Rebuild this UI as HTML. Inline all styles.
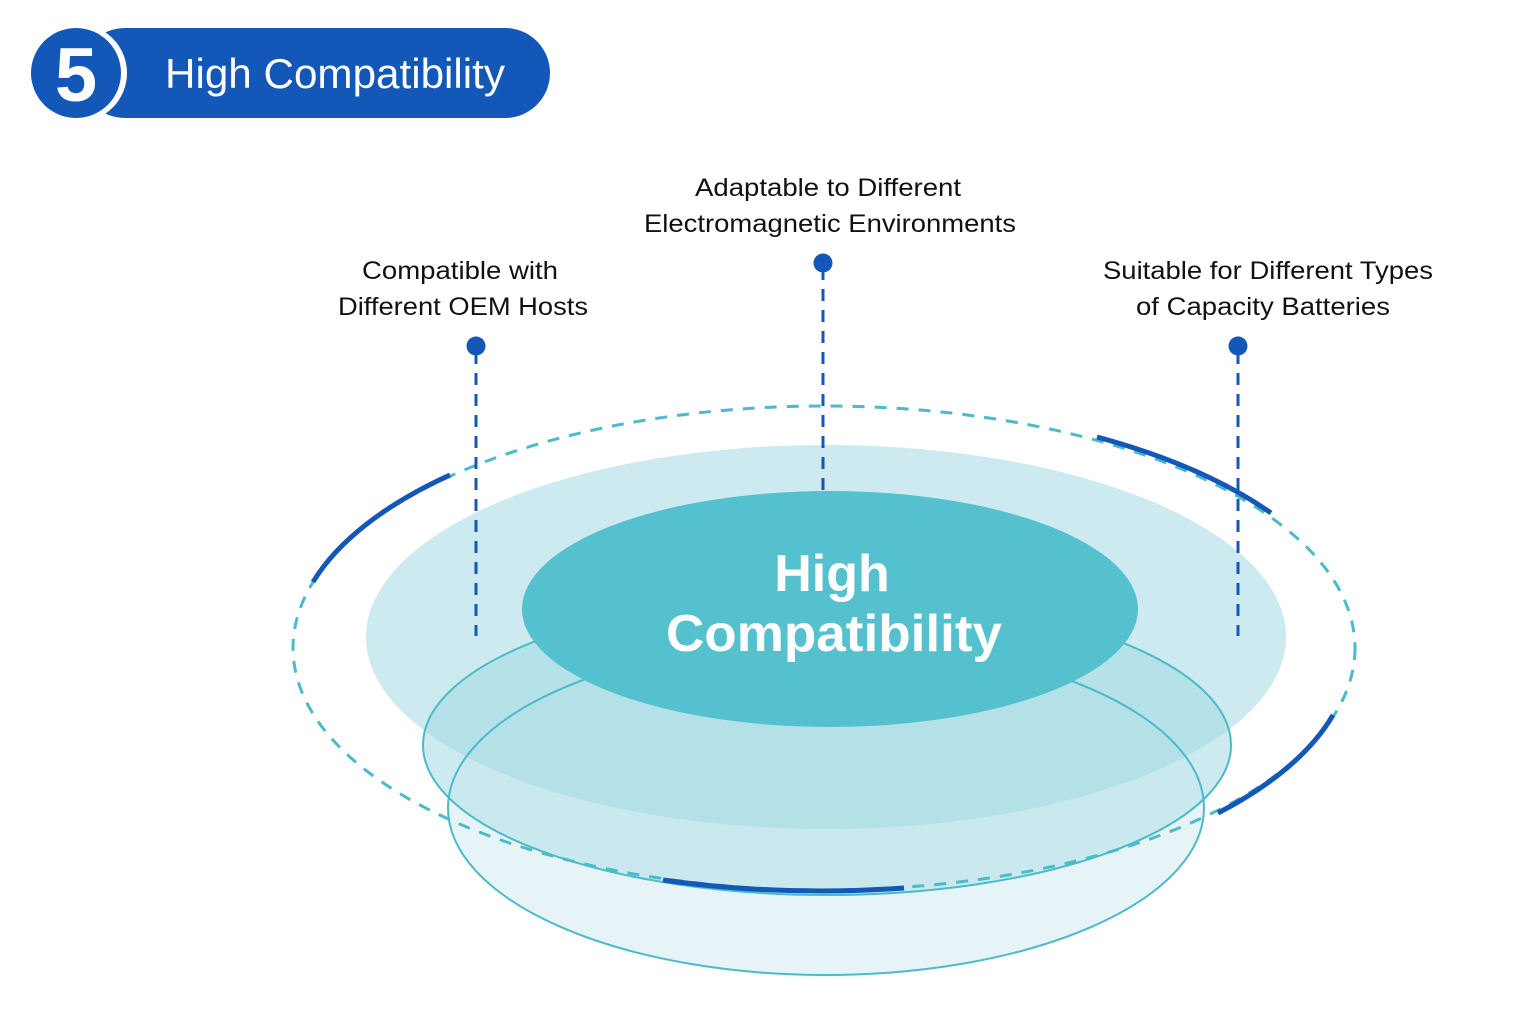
<!DOCTYPE html>
<html><head><meta charset="utf-8"><style>
html,body{margin:0;padding:0;background:#fff;}
svg{display:block}
</style></head><body>
<svg width="1536" height="1024" viewBox="0 0 1536 1024" xmlns="http://www.w3.org/2000/svg" font-family="Liberation Sans, Arial, sans-serif">
<rect width="1536" height="1024" fill="#fff"/>
<!-- header -->
<rect x="80" y="28" width="470" height="90" rx="45" fill="#1358b8"/>
<circle cx="78" cy="73" r="49" fill="#fff"/>
<circle cx="76" cy="73" r="45" fill="#1358b8"/>
<text x="76" y="101" font-size="76" font-weight="bold" fill="#fff" text-anchor="middle">5</text>
<text x="165" y="88" font-size="42" fill="#fff" textLength="340" lengthAdjust="spacingAndGlyphs">High Compatibility</text>

<!-- lower ellipses fills -->
<ellipse cx="826" cy="808" rx="378" ry="167" fill="#e6f4f7"/>
<ellipse cx="827" cy="745" rx="404" ry="150" fill="#c4e6ed" opacity="0.85"/>
<!-- big pale disc -->
<ellipse cx="826" cy="637" rx="460" ry="192" fill="#a2d8e2" opacity="0.55"/>
<!-- outlines -->
<ellipse cx="827" cy="745" rx="404" ry="150" fill="none" stroke="#4bbac9" stroke-width="2"/>
<ellipse cx="826" cy="808" rx="378" ry="167" fill="none" stroke="#4bbac9" stroke-width="2"/>

<!-- dashed orbit -->
<ellipse cx="824" cy="648" rx="531" ry="242" fill="none" stroke="#4bbac9" stroke-width="3" stroke-dasharray="12 10"/>
<g fill="none" stroke="#1358b8" stroke-width="5" stroke-linecap="butt">
<path d="M450 475 A531 242 0 0 0 313 582"/>
<path d="M1097 437 A531 242 0 0 1 1271 513"/>
<path d="M1333 715 A531 242 0 0 1 1218 813"/>
<path d="M904 888 A531 242 0 0 1 663 880"/>
</g>

<!-- connectors -->
<g stroke="#1358b8" stroke-width="3" stroke-dasharray="12 9">
<line x1="476" y1="352" x2="476" y2="636"/>
<line x1="823" y1="268" x2="823" y2="490"/>
<line x1="1238" y1="352" x2="1238" y2="636"/>
</g>
<circle cx="476" cy="346" r="9.5" fill="#1358b8"/>
<circle cx="823" cy="263" r="9.5" fill="#1358b8"/>
<circle cx="1238" cy="346" r="9.5" fill="#1358b8"/>

<!-- center disc -->
<ellipse cx="830" cy="609" rx="308" ry="118" fill="#55c1cf"/>
<text x="832" y="591" font-size="52" font-weight="bold" fill="#fff" text-anchor="middle">High</text>
<text x="834" y="651" font-size="52" font-weight="bold" fill="#fff" text-anchor="middle" textLength="336" lengthAdjust="spacingAndGlyphs">Compatibility</text>

<!-- labels -->
<g font-size="25" fill="#111" text-anchor="middle">
<text x="828" y="196" textLength="266" lengthAdjust="spacingAndGlyphs">Adaptable to Different</text>
<text x="830" y="232" textLength="372" lengthAdjust="spacingAndGlyphs">Electromagnetic Environments</text>
<text x="460" y="279" textLength="196" lengthAdjust="spacingAndGlyphs">Compatible with</text>
<text x="463" y="315" textLength="250" lengthAdjust="spacingAndGlyphs">Different OEM Hosts</text>
<text x="1268" y="279" textLength="330" lengthAdjust="spacingAndGlyphs">Suitable for Different Types</text>
<text x="1263" y="315" textLength="254" lengthAdjust="spacingAndGlyphs">of Capacity Batteries</text>
</g>
</svg>
</body></html>
